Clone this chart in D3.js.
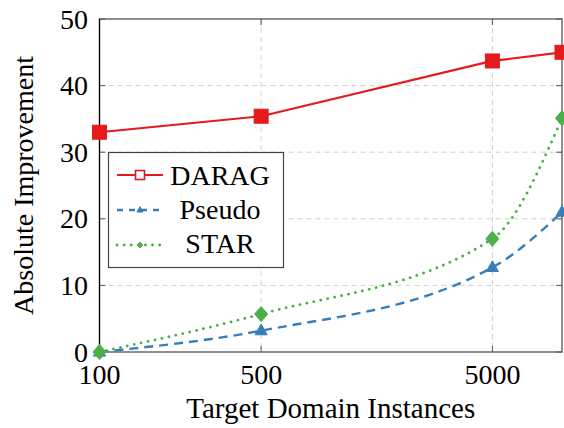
<!DOCTYPE html>
<html><head><meta charset="utf-8">
<script src="https://cdn.jsdelivr.net/npm/d3@7/dist/d3.min.js"></script>
<style>body{margin:0;background:#fff}svg{display:block}</style>
</head><body><svg id="c" width="564" height="428"></svg>
<script>
const xValues = [100, 500, 5000, 10000];
const xTicks = [100, 500, 5000];
const yTicks = [0, 10, 20, 30, 40, 50];
const seriesNames = ["DARAG", "Pseudo", "STAR"];
const daragValues = [33.0, 35.4, 43.7, 45.0];
const pseudoValues = [0.0, 3.2, 12.7, 21.0];
const starValues = [0.0, 5.7, 17.0, 35.1];
const colors = ["#e41a1c", "#377eb8", "#4daf4a"];

const FONT = '"Liberation Serif", "Times New Roman", serif';
const svg = d3.select("#c");
const L = 99.5, R = 562, T = 19, B = 352;
const x = d3.scaleLog().domain([100, 10000]).range([L, R]);
const y = d3.scaleLinear().domain([0, 50]).range([B, T]);

function txt(sel, size) {
  return sel.append("text").style("font-family", FONT).attr("font-size", size || 28).attr("fill", "#000");
}

// grid
const g = svg.append("g");
g.selectAll(".hg").data(yTicks.filter(d => d > 0 && d < 50)).join("line")
  .attr("x1", L).attr("x2", R).attr("y1", d => y(d)).attr("y2", d => y(d))
  .attr("stroke", "#cfcfcf").attr("stroke-width", 1).attr("stroke-dasharray", "5,4");
g.selectAll(".vg").data(xTicks.filter(d => d > 100)).join("line")
  .attr("y1", T).attr("y2", B).attr("x1", d => x(d)).attr("x2", d => x(d))
  .attr("stroke", "#cfcfcf").attr("stroke-width", 1).attr("stroke-dasharray", "5,4");

// inward tick marks
const tk = 6;
yTicks.forEach(v => {
  svg.append("line").attr("x1", L).attr("x2", L + tk).attr("y1", y(v)).attr("y2", y(v)).attr("stroke", "#555");
  svg.append("line").attr("x1", R).attr("x2", R - tk).attr("y1", y(v)).attr("y2", y(v)).attr("stroke", "#555");
});
xTicks.forEach(v => {
  svg.append("line").attr("x1", x(v)).attr("x2", x(v)).attr("y1", T).attr("y2", T + tk).attr("stroke", "#555");
  svg.append("line").attr("x1", x(v)).attr("x2", x(v)).attr("y1", B).attr("y2", B - tk).attr("stroke", "#555");
});

// frame
svg.append("rect").attr("x", L).attr("y", T).attr("width", R - L).attr("height", B - T)
  .attr("fill", "none").attr("stroke", "#555").attr("stroke-width", 1.3);
svg.append("line").attr("x1", L).attr("x2", L).attr("y1", T).attr("y2", B).attr("stroke", "#000").attr("stroke-width", 1.2);

// tick labels
yTicks.forEach(d => txt(svg).attr("x", 88).attr("y", y(d)).attr("dy", "0.34em").attr("text-anchor", "end").text(d));
xTicks.forEach(d => txt(svg).attr("x", x(d)).attr("y", 384).attr("text-anchor", "middle").text(d));

// axis titles
txt(svg, 29).attr("x", (L + R) / 2).attr("y", 418).attr("text-anchor", "middle").text("Target Domain Instances");
txt(svg).attr("transform", `translate(33,${(T + B) / 2}) rotate(-90)`).attr("text-anchor", "middle").text("Absolute Improvement");

// series
const allSeries = [daragValues, pseudoValues, starValues];
const dashes = [null, "9,6", "0.1,7"];
const widths = [2.2, 2.4, 2.8];
const curves = [d3.curveLinear, d3.curveMonotoneX, d3.curveMonotoneX];

function marker(sel, k, cx, cy, s, hollow) {
  const c = colors[k];
  if (k === 0) {
    sel.append("rect").attr("x", cx - s / 2).attr("y", cy - s / 2).attr("width", s).attr("height", s)
      .attr("fill", hollow ? "#fff" : c).attr("stroke", c).attr("stroke-width", hollow ? 1.6 : 1);
  } else if (k === 1) {
    const h = s * 0.9;
    sel.append("path").attr("d", `M${cx},${cy - h * 0.62}L${cx + s / 2},${cy + h * 0.38}L${cx - s / 2},${cy + h * 0.38}Z`)
      .attr("fill", c).attr("stroke", c).attr("stroke-width", 1);
  } else {
    sel.append("path").attr("d", `M${cx},${cy - s / 2}L${cx + s / 2.3},${cy}L${cx},${cy + s / 2}L${cx - s / 2.3},${cy}Z`)
      .attr("fill", c).attr("stroke", c).attr("stroke-width", 1);
  }
}

allSeries.forEach((vals, k) => {
  const line = d3.line().x((d, i) => x(xValues[i])).y(d => y(d)).curve(curves[k]);
  const p = svg.append("path").attr("d", line(vals)).attr("fill", "none")
    .attr("stroke", colors[k]).attr("stroke-width", widths[k]);
  if (dashes[k]) p.attr("stroke-dasharray", dashes[k]);
  if (k === 2) p.attr("stroke-linecap", "round");
});
[1, 2, 0].forEach(k => {
  const sizes = [14, 12, 15];
  allSeries[k].forEach((v, i) => marker(svg, k, x(xValues[i]), y(v), sizes[k], false));
});

// legend
const lg = svg.append("g");
lg.append("rect").attr("x", 108.5).attr("y", 152.5).attr("width", 175).attr("height", 115)
  .attr("fill", "#fff").attr("stroke", "#444").attr("stroke-width", 1.2);
const ly = [175, 210, 245];
const tb = [185, 219, 253];
seriesNames.forEach((n, k) => {
  const l = lg.append("line").attr("x1", 117).attr("x2", 163).attr("y1", ly[k]).attr("y2", ly[k])
    .attr("stroke", colors[k]).attr("stroke-width", widths[k]);
  if (dashes[k]) l.attr("stroke-dasharray", k === 1 ? "6,6" : "0.1,7");
  if (k === 2) l.attr("stroke-linecap", "round");
  marker(lg, k, 140, ly[k], k === 0 ? 9 : 6, k === 0);
  txt(lg).attr("x", 220).attr("y", tb[k]).attr("text-anchor", "middle").text(n);
});
</script></body></html>
